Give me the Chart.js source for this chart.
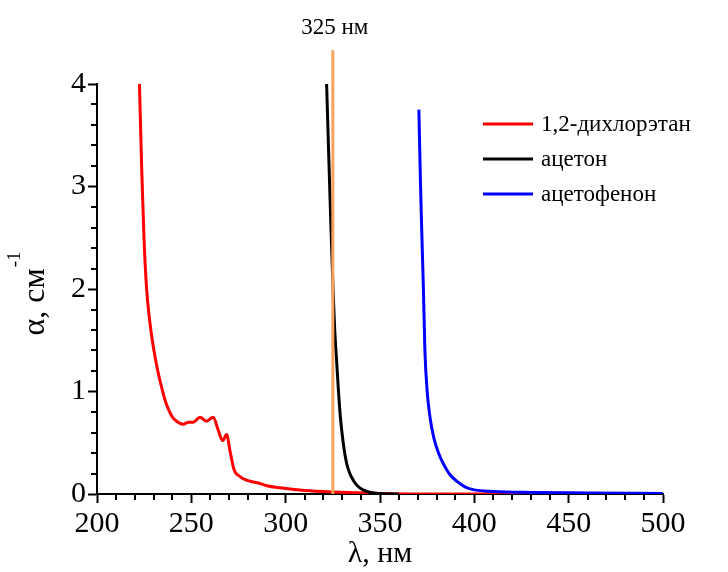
<!DOCTYPE html>
<html lang="ru">
<head>
<meta charset="UTF-8">
<title>Спектры поглощения растворителей</title>
<script src="https://cdn.jsdelivr.net/npm/chart.js"></script>
<style>
  body { margin: 0; background: #fff; }
  #wrap { width: 728px; height: 572px; }
</style>
</head>
<body>
<div id="wrap"><canvas id="spectra" width="728" height="572"></canvas></div>
<script>
// absorption spectra, alpha (cm^-1) against wavelength (nm)
const seriesLabels = ['1,2-дихлорэтан', 'ацетон', 'ацетофенон'];
const seriesColors = ['#ff0000', '#000000', '#0000ff'];

const dceWave  = [222.5, 223.7, 224.9, 226.3, 228, 230, 232, 234, 236, 238, 240, 242.2, 245.7, 248.4, 251, 254.6, 258, 261.6, 264.3, 266.6, 268.7, 270.5, 272.6, 275.8, 280, 285, 290, 297, 310, 325, 350, 400, 450, 500];
const dceAlpha = [4.0, 3.17, 2.5, 2.0, 1.68, 1.42, 1.22, 1.06, 0.92, 0.82, 0.75, 0.71, 0.68, 0.7, 0.7, 0.75, 0.71, 0.75, 0.62, 0.52, 0.58, 0.42, 0.24, 0.17, 0.13, 0.11, 0.08, 0.06, 0.035, 0.02, 0.006, 0.0, 0.0, 0.0];

const acetoneWave  = [321.7, 323, 324, 325.2, 326, 327, 328, 329, 330.5, 332.3, 334, 336, 338, 341, 345, 350, 360];
const acetoneAlpha = [4.0, 3.2, 2.6, 1.96, 1.6, 1.3, 1.0, 0.75, 0.5, 0.3, 0.2, 0.13, 0.08, 0.04, 0.015, 0.005, 0.0];

const acphWave  = [370.6, 371.5, 372, 373, 373.8, 375, 376.5, 378.5, 381, 384, 387, 391, 395, 400, 410, 430, 460, 500];
const acphAlpha = [3.75, 3.0, 2.65, 2.0, 1.4, 1.0, 0.75, 0.55, 0.4, 0.28, 0.19, 0.12, 0.07, 0.04, 0.025, 0.015, 0.01, 0.005];

// excitation line
const markWave = 325;
const markAlpha = [0, 4.33];

const xTicks = { min: 200, max: 500, major: 50, minor: 10 };
const yTicks = { min: 0, max: 4, major: 1, minor: 0.2 };

const serif = 'Liberation Serif, Times New Roman, serif';

function pts(xs, ys) {
  return xs.map((v, i) => ({ x: v, y: ys[i] }));
}

const curves = [[dceWave, dceAlpha], [acetoneWave, acetoneAlpha], [acphWave, acphAlpha]];

const datasets = curves.map((c, i) => ({
  label: seriesLabels[i],
  data: pts(c[0], c[1]),
  borderColor: seriesColors[i],
  borderWidth: 3,
  pointRadius: 0,
  cubicInterpolationMode: 'monotone',
  order: 3 - i
}));

datasets.push({
  label: '',
  data: markAlpha.map(v => ({ x: markWave, y: v })),
  borderColor: '#f6a35f',
  borderWidth: 3,
  pointRadius: 0,
  clip: false,
  order: 0
});

const extras = {
  id: 'extras',
  afterDraw(chart) {
    const { ctx, scales: { x, y } } = chart;
    ctx.save();
    ctx.strokeStyle = '#000';
    ctx.lineWidth = 2;
    ctx.beginPath();
    for (let v = xTicks.min; v <= xTicks.max; v += xTicks.minor) {
      if (v % xTicks.major === 0) continue;
      const px = Math.round(x.getPixelForValue(v));
      ctx.moveTo(px, y.bottom);
      ctx.lineTo(px, y.bottom + 6);
    }
    for (let i = 1; i < (yTicks.max - yTicks.min) / yTicks.minor; i++) {
      if (i % 5 === 0) continue;
      const py = Math.round(y.getPixelForValue(yTicks.min + i * yTicks.minor));
      ctx.moveTo(x.left, py);
      ctx.lineTo(x.left - 6, py);
    }
    ctx.stroke();

    // y axis title with superscript
    ctx.fillStyle = '#000';
    ctx.translate(36, 294);
    ctx.rotate(-Math.PI / 2);
    const main = 'α, см';
    ctx.font = '32px ' + serif;
    const w1 = ctx.measureText(main).width;
    ctx.font = '19px ' + serif;
    const w2 = ctx.measureText('-1').width;
    const sx = -(w1 + w2) / 2;
    ctx.textBaseline = 'middle';
    ctx.textAlign = 'left';
    ctx.font = '32px ' + serif;
    ctx.fillText(main, sx, 0);
    ctx.font = '19px ' + serif;
    ctx.fillText('-1', sx + w1 + 1, -21);
    ctx.setTransform(1, 0, 0, 1, 0, 0);

    // excitation label
    ctx.font = '23px ' + serif;
    ctx.textAlign = 'center';
    ctx.fillText(markWave + ' нм', x.getPixelForValue(markWave) + 2, 28);

    // legend
    ctx.textAlign = 'left';
    ctx.font = '23px ' + serif;
    const legY = [124, 159, 194];
    seriesLabels.forEach((lab, i) => {
      ctx.strokeStyle = seriesColors[i];
      ctx.lineWidth = 3;
      ctx.beginPath();
      ctx.moveTo(483, legY[i]);
      ctx.lineTo(533, legY[i]);
      ctx.stroke();
      ctx.fillText(lab, 541, legY[i] + 1);
    });
    ctx.restore();
  }
};

new Chart(document.getElementById('spectra'), {
  type: 'line',
  data: { datasets },
  options: {
    responsive: false,
    animation: false,
    layout: { padding: { top: 84, right: 65, left: 0, bottom: 0 } },
    plugins: { legend: { display: false }, tooltip: { enabled: false } },
    scales: {
      x: {
        type: 'linear',
        min: xTicks.min,
        max: xTicks.max,
        afterFit: s => { s.height = 78; },
        ticks: { stepSize: xTicks.major, color: '#000', padding: 3, font: { family: serif, size: 30 } },
        grid: { drawOnChartArea: false, drawTicks: true, tickLength: 9, tickWidth: 2, tickColor: '#000' },
        border: { display: true, color: '#000', width: 2 },
        title: { display: true, text: 'λ, нм', color: '#000', font: { family: serif, size: 30 }, padding: { bottom: 0, top: 0 } }
      },
      y: {
        min: yTicks.min,
        max: yTicks.max,
        afterFit: s => { s.width = 97; },
        ticks: { stepSize: yTicks.major, color: '#000', padding: 2, font: { family: serif, size: 30 } },
        grid: { drawOnChartArea: false, drawTicks: true, tickLength: 9, tickWidth: 2, tickColor: '#000' },
        border: { display: true, color: '#000', width: 2 }
      }
    }
  },
  plugins: [extras]
});
</script>
</body>
</html>
